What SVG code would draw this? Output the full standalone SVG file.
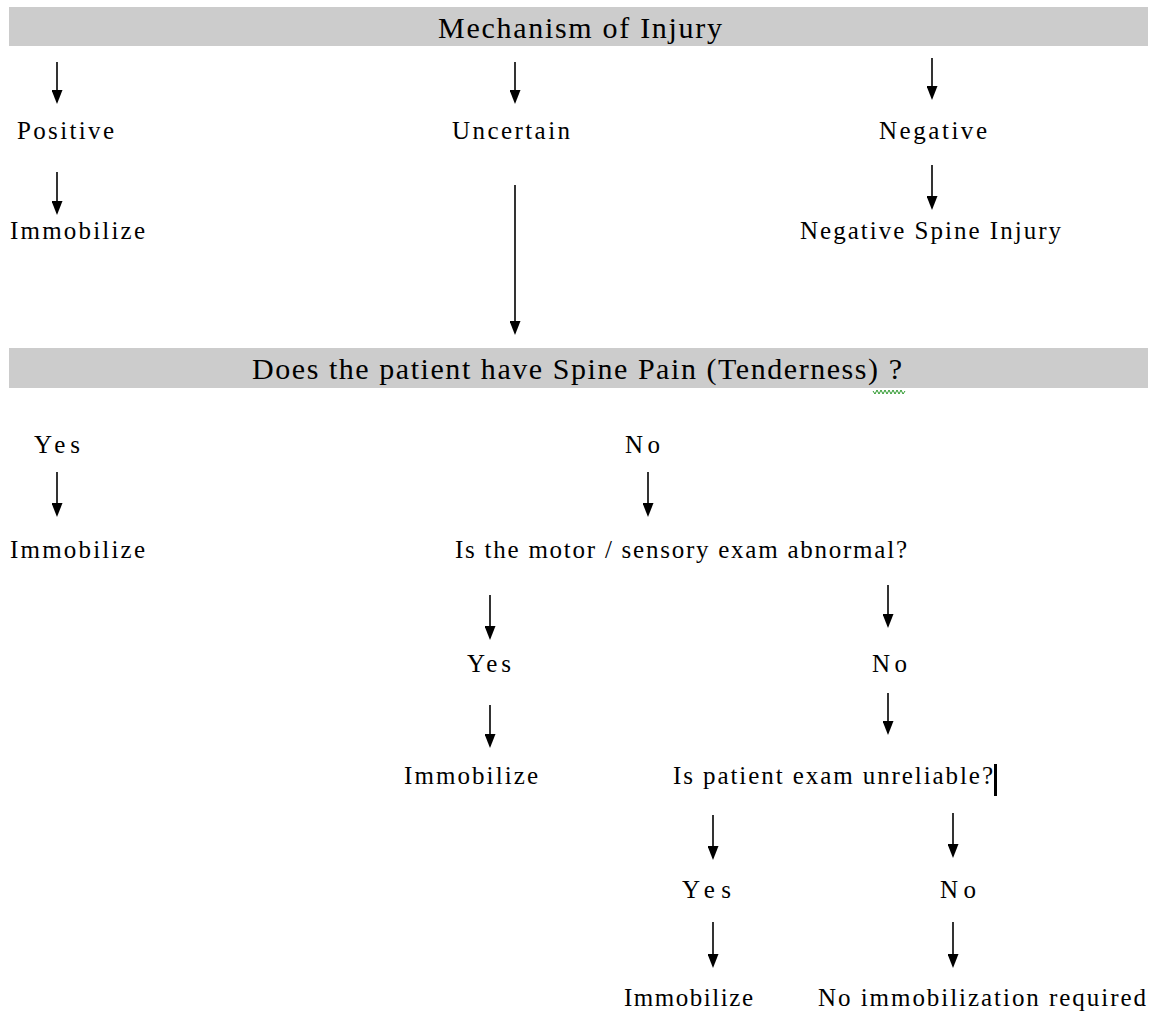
<svg xmlns="http://www.w3.org/2000/svg" width="1151" height="1021" viewBox="0 0 1151 1021">
<style>
  text { font-family: "Liberation Serif", "Times New Roman", serif; fill: #000; }
  .lbl { font-size: 25px; }
  .ban { font-size: 30px; text-anchor: middle; }
  .bar { fill: #cccccc; }
  .conn line { stroke: #000; stroke-width: 1.6; marker-end: url(#ah); }
</style>
<defs>
  <marker id="ah" viewBox="0 0 14 11" refX="8" refY="5.5" markerWidth="14" markerHeight="11" markerUnits="userSpaceOnUse" orient="auto">
    <path d="M0,0 L14,5.5 L0,11 z" fill="#000"/>
  </marker>
</defs>
<rect width="1151" height="1021" fill="#fff"/>

<g id="mechanism">
  <rect class="bar" x="9" y="7" width="1139" height="39"/>
  <text class="ban" x="580" y="38" textLength="284" lengthAdjust="spacing">Mechanism of Injury</text>
</g>
<g id="positive"><text class="lbl" x="17" y="139" textLength="97" lengthAdjust="spacing">Positive</text></g>
<g id="uncertain"><text class="lbl" x="452" y="139" textLength="118" lengthAdjust="spacing">Uncertain</text></g>
<g id="negative"><text class="lbl" x="879" y="139" textLength="108" lengthAdjust="spacing">Negative</text></g>
<g id="immobilize1"><text class="lbl" x="10" y="239" textLength="135" lengthAdjust="spacing">Immobilize</text></g>
<g id="negative-spine"><text class="lbl" x="800" y="239" textLength="261" lengthAdjust="spacing">Negative Spine Injury</text></g>

<g id="spine-pain">
  <rect class="bar" x="9" y="348" width="1139" height="40"/>
  <text class="ban" x="577" y="379" textLength="650" lengthAdjust="spacing">Does the patient have Spine Pain (Tenderness) ?</text>
  <polyline points="873,391 875,394 877,390 879,394 881,390 883,394 885,390 887,394 889,390 891,394 893,390 895,394 897,390 899,394 901,390 903,394 905,391" fill="none" stroke="#2e9a2e" stroke-width="1"/>
</g>
<g id="yes1"><text class="lbl" x="34" y="453" textLength="46" lengthAdjust="spacing">Yes</text></g>
<g id="no1"><text class="lbl" x="625" y="453" textLength="35" lengthAdjust="spacing">No</text></g>
<g id="immobilize2"><text class="lbl" x="10" y="558" textLength="135" lengthAdjust="spacing">Immobilize</text></g>
<g id="motor-sensory"><text class="lbl" x="455" y="558" textLength="452" lengthAdjust="spacing">Is the motor / sensory exam abnormal?</text></g>
<g id="yes2"><text class="lbl" x="467" y="672" textLength="44" lengthAdjust="spacing">Yes</text></g>
<g id="no2"><text class="lbl" x="872" y="672" textLength="35" lengthAdjust="spacing">No</text></g>
<g id="immobilize3"><text class="lbl" x="404" y="784" textLength="134" lengthAdjust="spacing">Immobilize</text></g>
<g id="unreliable">
  <text class="lbl" x="673" y="784" textLength="320" lengthAdjust="spacing">Is patient exam unreliable?</text>
  <rect x="994" y="764" width="3" height="32" fill="#000"/>
</g>
<g id="yes3"><text class="lbl" x="682" y="898" textLength="49" lengthAdjust="spacing">Yes</text></g>
<g id="no3"><text class="lbl" x="940" y="898" textLength="36" lengthAdjust="spacing">No</text></g>
<g id="immobilize4"><text class="lbl" x="624" y="1006" textLength="129" lengthAdjust="spacing">Immobilize</text></g>
<g id="no-immob"><text class="lbl" x="818" y="1006" textLength="328" lengthAdjust="spacing">No immobilization required</text></g>

<g id="connectors" class="conn">
  <line x1="57" y1="62" x2="57" y2="98"/>
  <line x1="515" y1="62" x2="515" y2="98"/>
  <line x1="932" y1="58" x2="932" y2="94"/>
  <line x1="57" y1="172" x2="57" y2="209"/>
  <line x1="932" y1="165" x2="932" y2="204"/>
  <line x1="515" y1="185" x2="515" y2="329"/>
  <line x1="57" y1="472" x2="57" y2="511"/>
  <line x1="648" y1="472" x2="648" y2="511"/>
  <line x1="490" y1="595" x2="490" y2="634"/>
  <line x1="888" y1="585" x2="888" y2="622"/>
  <line x1="490" y1="705" x2="490" y2="742"/>
  <line x1="888" y1="693" x2="888" y2="729"/>
  <line x1="713" y1="815" x2="713" y2="854"/>
  <line x1="953" y1="813" x2="953" y2="852"/>
  <line x1="713" y1="922" x2="713" y2="962"/>
  <line x1="953" y1="922" x2="953" y2="962"/>
</g>
</svg>
